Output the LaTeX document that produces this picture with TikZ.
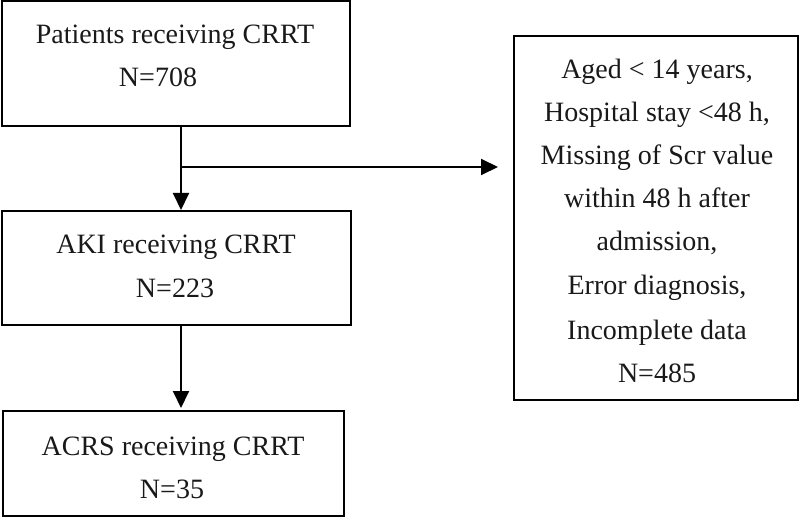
\documentclass[tikz,border=0pt]{standalone}
\usepackage{fontspec}
\setmainfont{Liberation Serif}
\usetikzlibrary{arrows.meta}
\begin{document}
\begin{tikzpicture}[x=1pt,y=-1pt,
  box/.style={draw=black,line width=2pt,inner sep=0pt,rectangle},
  txt/.style={anchor=base,inner sep=0pt,font=\fontsize{28}{43}\selectfont,text=black!90},
  conn/.style={line width=2pt,-{Triangle[width=16pt,length=17pt]}}]
\useasboundingbox (0,0) rectangle (800,518);
% boxes
\node[box,minimum width=348pt,minimum height=125pt] (b1) at (176,63.5) {};
\node[box,minimum width=349pt,minimum height=114pt] (b2) at (176.5,268) {};
\node[box,minimum width=341pt,minimum height=105pt] (b3) at (173.5,463.5) {};
\node[box,minimum width=284pt,minimum height=364pt] (ex) at (656,218) {};
% texts
\node[txt] (t1a) at (175,44) {Patients receiving CRRT};
\node[txt] (t1b) at (158,87) {N=708};
\node[txt] (t2a) at (176,254) {AKI receiving CRRT};
\node[txt] (t2b) at (175,298) {N=223};
\node[txt] (t3a) at (173,455) {ACRS receiving CRRT};
\node[txt] (t3b) at (172,498) {N=35};
\node[txt] (e1) at (657,79) {Aged < 14 years,};
\node[txt] (e2) at (657,122) {Hospital stay <48 h,};
\node[txt] (e3) at (657,165) {Missing of Scr value};
\node[txt] (e4) at (657,208) {within 48 h after};
\node[txt] (e5) at (657,251) {admission,};
\node[txt] (e6) at (657,295) {Error diagnosis,};
\node[txt] (e7) at (657,339) {Incomplete data};
\node[txt] (e8) at (657,382) {N=485};
% connectors
\coordinate (ax) at (181,0);
\coordinate (br) at (181,167);
\draw[conn] (b1.south -| ax) -- (b2.north -| ax);
\draw[conn,shorten >=15pt] (br) -- (ex.west |- br);
\draw[conn,shorten >=2pt] (b2.south -| ax) -- (b3.north -| ax);
\end{tikzpicture}
\end{document}
